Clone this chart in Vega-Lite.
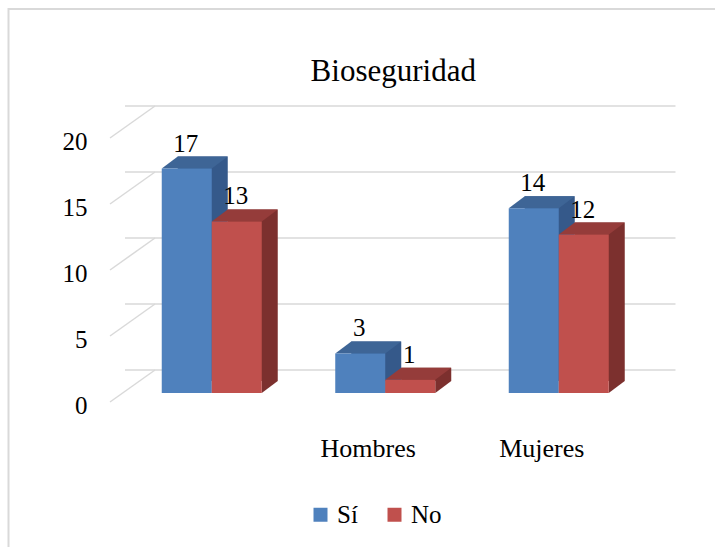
{
  "$schema": "https://vega.github.io/schema/vega-lite/v6.json",
  "width": 520.5,
  "height": 264,
  "autosize": "none",
  "padding": {"left": 125, "top": 129, "right": 69.5, "bottom": 154},
  "background": "white",
  "config": {
    "font": "'Liberation Serif', 'Times New Roman', serif",
    "view": {"stroke": null},
    "axisX": {"domain": false, "ticks": false, "grid": false, "labelFontSize": 26, "labelColor": "#000000", "labelOffset": -17, "labelPadding": 42, "labelAngle": 0, "labelFont": "'Liberation Serif', 'Times New Roman', serif"},
    "axisY": {"domain": false, "ticks": false, "grid": false, "labelFontSize": 25, "labelColor": "#000000", "labelPadding": 38, "labelOffset": 12, "labelFont": "'Liberation Serif', 'Times New Roman', serif"}
  },
  "title": {"text": "Bioseguridad", "fontSize": 31, "fontWeight": "normal", "color": "#000000", "font": "'Liberation Serif', 'Times New Roman', serif", "dx": 8, "offset": -80},
  "datasets": {
    "bars": [
      {"grupo": " ", "serie": "Sí", "valor": 17},
      {"grupo": " ", "serie": "No", "valor": 13},
      {"grupo": "Hombres", "serie": "Sí", "valor": 3},
      {"grupo": "Hombres", "serie": "No", "valor": 1},
      {"grupo": "Mujeres", "serie": "Sí", "valor": 14},
      {"grupo": "Mujeres", "serie": "No", "valor": 12}
    ],
    "ticks": [{"v": 0}, {"v": 5}, {"v": 10}, {"v": 15}, {"v": 20}],
    "marco": [{"m": 1}]
  },
  "data": {"name": "bars"},
  "layer": [
    {
      "data": {"name": "marco"},
      "mark": {"type": "rect", "fill": "transparent", "stroke": "#D9D9D9", "strokeWidth": 2, "xOffset": -116.5, "x2Offset": 80, "yOffset": -120, "y2Offset": 160},
      "encoding": {
        "x": {"value": 0},
        "x2": {"value": "width"},
        "y": {"value": 0},
        "y2": {"value": "height"}
      }
    },
    {
      "data": {"name": "ticks"},
      "mark": {"type": "rule", "color": "#D9D9D9", "strokeWidth": 1.5, "xOffset": 30, "x2Offset": 30, "yOffset": -23},
      "encoding": {
        "y": {"field": "v", "type": "quantitative", "title": null, "scale": {"domain": [0, 20], "nice": false, "zero": true},
          "axis": {"values": [0, 5, 10, 15, 20]}}
      }
    },
    {
      "data": {"name": "ticks"},
      "mark": {"type": "rule", "color": "#D9D9D9", "strokeWidth": 1.5, "xOffset": -15, "x2Offset": 30, "yOffset": 9, "y2Offset": -23},
      "encoding": {
        "x": {"value": 0},
        "x2": {"value": 0},
        "y": {"field": "v", "type": "quantitative", "title": null},
        "y2": {"field": "v"}
      }
    },
    {
      "transform": [{"filter": "datum.serie === 'Sí'"}],
      "mark": {"type": "bar", "color": "#35598A", "width": {"band": 0.5}, "xOffset": -9, "yOffset": -12, "y2Offset": -12},
      "encoding": {
        "x": {"field": "grupo", "type": "nominal", "title": null, "scale": {"domain": [" ", "Hombres", "Mujeres"], "paddingInner": 0.4236, "paddingOuter": 0.2118}},
        "y": {"field": "valor", "type": "quantitative", "title": null}
      }
    },
    {
      "transform": [{"filter": "datum.serie === 'Sí'"}],
      "mark": {"type": "point", "shape": "M 25,-12 L 25,0 L 41,-12 Z", "size": 4, "filled": true, "opacity": 1, "strokeWidth": 0, "color": "#35598A", "xOffset": -25},
      "encoding": {
        "x": {"field": "grupo", "type": "nominal", "title": null},
        "y": {"datum": 0, "type": "quantitative", "title": null}
      }
    },
    {
      "transform": [{"filter": "datum.serie === 'Sí'"}],
      "mark": {"type": "point", "shape": "M -25,0 L 25,0 L 41,-12 L -9,-12 Z", "size": 4, "filled": true, "opacity": 1, "strokeWidth": 0, "color": "#3E6596", "xOffset": -25},
      "encoding": {
        "x": {"field": "grupo", "type": "nominal", "title": null},
        "y": {"field": "valor", "type": "quantitative", "title": null}
      }
    },
    {
      "transform": [{"filter": "datum.serie === 'No'"}],
      "mark": {"type": "bar", "color": "#7C302E", "width": {"band": 0.5}, "xOffset": 41, "yOffset": -12, "y2Offset": -12},
      "encoding": {
        "x": {"field": "grupo", "type": "nominal", "title": null},
        "y": {"field": "valor", "type": "quantitative", "title": null}
      }
    },
    {
      "transform": [{"filter": "datum.serie === 'No'"}],
      "mark": {"type": "point", "shape": "M 25,-12 L 25,0 L 41,-12 Z", "size": 4, "filled": true, "opacity": 1, "strokeWidth": 0, "color": "#7C302E", "xOffset": 25},
      "encoding": {
        "x": {"field": "grupo", "type": "nominal", "title": null},
        "y": {"datum": 0, "type": "quantitative", "title": null}
      }
    },
    {
      "transform": [{"filter": "datum.serie === 'No'"}],
      "mark": {"type": "point", "shape": "M -25,0 L 25,0 L 41,-12 L -9,-12 Z", "size": 4, "filled": true, "opacity": 1, "strokeWidth": 0, "color": "#953C3A", "xOffset": 25},
      "encoding": {
        "x": {"field": "grupo", "type": "nominal", "title": null},
        "y": {"field": "valor", "type": "quantitative", "title": null}
      }
    },
    {
      "mark": {"type": "bar"},
      "encoding": {
        "x": {"field": "grupo", "type": "nominal", "title": null},
        "xOffset": {"field": "serie", "type": "nominal", "scale": {"domain": ["Sí", "No"]}},
        "y": {"field": "valor", "type": "quantitative", "title": null},
        "color": {"field": "serie", "type": "nominal",
          "scale": {"domain": ["Sí", "No"], "range": ["#4F81BD", "#C0504D"]},
          "legend": {"orient": "none", "legendX": 183, "legendY": 373, "direction": "horizontal", "title": null, "symbolType": "square", "symbolSize": 196, "symbolStrokeWidth": 0, "labelFontSize": 25, "labelFont": "'Liberation Serif', 'Times New Roman', serif", "labelColor": "#000000", "columnPadding": 24, "padding": 0}}
      }
    },
    {
      "mark": {"type": "text", "fontSize": 25, "color": "#000000", "baseline": "alphabetic", "yOffset": -17, "dx": -1, "font": "'Liberation Serif', 'Times New Roman', serif"},
      "encoding": {
        "x": {"field": "grupo", "type": "nominal", "title": null},
        "xOffset": {"field": "serie", "type": "nominal"},
        "y": {"field": "valor", "type": "quantitative", "title": null},
        "text": {"field": "valor", "type": "quantitative"}
      }
    }
  ]
}
